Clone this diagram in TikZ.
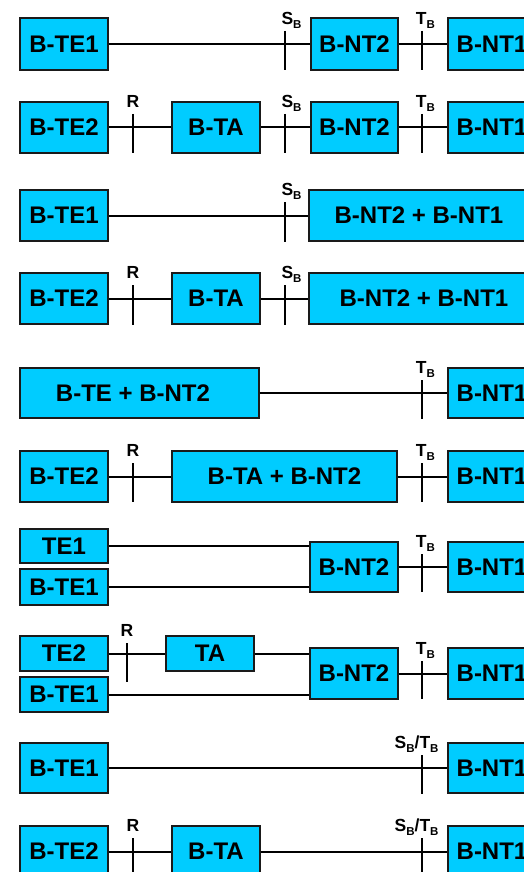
\documentclass[tikz,border=0pt]{standalone}
\usepackage{fontspec}
\setmainfont{Liberation Sans}
\definecolor{boxcyan}{HTML}{00CCFF}
\definecolor{boxline}{HTML}{1A1A1A}
\newcommand{\lsub}{\raisebox{-3.5pt}{\fontsize{11.5}{11.5}\selectfont B}}
\begin{document}
\begin{tikzpicture}[x=1pt,y=-1pt,
  box/.style={draw=boxline, line width=1.3pt, fill=boxcyan, inner sep=0pt,
    minimum width=88pt, minimum height=51pt,
    font=\fontsize{24}{24}\selectfont\bfseries},
  conn/.style={line width=2pt, draw=black},
  tickln/.style={line width=2pt, draw=black},
  lab/.style={anchor=south west, inner sep=0pt, font=\fontsize{17.5}{17.5}\selectfont\bfseries},
  rlab/.style={anchor=south, inner sep=0pt, font=\fontsize{17.5}{17.5}\selectfont\bfseries}]
\useasboundingbox (0,0) rectangle (524,872);
\clip (0,0) rectangle (524,872);

% ---------- Row 1 ----------
\node[box, minimum height=52pt] (r1a) at (64,44) {B-TE1};
\node[box, minimum height=52pt, minimum width=87pt] (r1b) at (354.5,44) {B-NT2};
\node[box, minimum height=52pt] (r1c) at (492,44) {B-NT1};
\draw[conn] (r1a) -- (r1b);
\draw[conn] (r1b) -- (r1c);
\draw[tickln] (285,31) -- (285,70);
\draw[tickln] (422,31) -- (422,70);
\node[lab] (l1s) at (281.3,28.3) {S\lsub};
\node[lab] (l1t) at (415.7,28.3) {T\lsub};

% ---------- Row 2 ----------
\node[box] (r2a) at (64,127.5) {B-TE2};
\node[box] (r2b) at (216,127.5) {B-TA};
\node[box, minimum width=87pt] (r2c) at (354.5,127.5) {B-NT2};
\node[box] (r2d) at (492,127.5) {B-NT1};
\draw[conn] (r2a) -- (r2b);
\draw[conn] (r2b) -- (r2c);
\draw[conn] (r2c) -- (r2d);
\draw[tickln] (133,114) -- (133,153);
\draw[tickln] (285,114) -- (285,153);
\draw[tickln] (422,114) -- (422,153);
\node[rlab] (l2r) at (133,107.5) {R};
\node[lab] (l2s) at (281.3,111.3) {S\lsub};
\node[lab] (l2t) at (415.7,111.3) {T\lsub};

% ---------- Row 3 ----------
\node[box] (r3a) at (64,215.5) {B-TE1};
\node[box, minimum width=220pt] (r3b) at (419,215.5) {B-NT2 + B-NT1};
\draw[conn] (r3a) -- (r3b);
\draw[tickln] (285,202) -- (285,242);
\node[lab] (l3s) at (281.3,199.3) {S\lsub};

% ---------- Row 4 ----------
\node[box] (r4a) at (64,298.5) {B-TE2};
\node[box] (r4b) at (216,298.5) {B-TA};
\node[box, minimum width=230pt] (r4c) at (424,298.5) {B-NT2 + B-NT1};
\draw[conn] (r4a) -- (r4b);
\draw[conn] (r4b) -- (r4c);
\draw[tickln] (133,285) -- (133,325);
\draw[tickln] (285,285) -- (285,325);
\node[rlab] (l4r) at (133,278.5) {R};
\node[lab] (l4s) at (281.3,282.3) {S\lsub};

% ---------- Row 5 ----------
\node[box, minimum width=239pt, minimum height=50pt] (r5a) at (139.5,393) {B-TE + B-NT2\hspace*{13pt}};
\node[box, minimum height=50pt] (r5b) at (492,393) {B-NT1};
\draw[conn] (r5a) -- (r5b);
\draw[tickln] (422,380) -- (422,419);
\node[lab] (l5t) at (415.7,377.3) {T\lsub};

% ---------- Row 6 ----------
\node[box] (r6a) at (64,476.5) {B-TE2};
\node[box, minimum width=225pt] (r6b) at (284.5,476.5) {B-TA + B-NT2};
\node[box] (r6c) at (492,476.5) {B-NT1};
\draw[conn] (r6a) -- (r6b);
\draw[conn] (r6b) -- (r6c);
\draw[tickln] (133,463) -- (133,502);
\draw[tickln] (422,463) -- (422,502);
\node[rlab] (l6r) at (133,456.5) {R};
\node[lab] (l6t) at (415.7,460.3) {T\lsub};

% ---------- Row 7 ----------
\node[box, minimum height=34pt] (r7a) at (64,546) {TE1};
\node[box, minimum height=36pt] (r7b) at (64,587) {B-TE1};
\node[box, minimum height=50pt] (r7c) at (354,567) {B-NT2};
\node[box, minimum height=50pt] (r7d) at (492,567) {B-NT1};
\draw[conn] (r7a.east) -- (r7a.east -| r7c.west);
\draw[conn] (r7b.east) -- (r7b.east -| r7c.west);
\draw[conn] (r7c) -- (r7d);
\draw[tickln] (422,554) -- (422,592);
\node[lab] (l7t) at (415.7,551.3) {T\lsub};

% ---------- Row 8 ----------
\node[box, minimum height=35pt] (r8a) at (64,653.5) {TE2};
\node[box, minimum height=35pt] (r8b) at (210,653.5) {TA};
\node[box, minimum height=35pt] (r8c) at (64,694.5) {B-TE1};
\node[box] (r8d) at (354,673.5) {B-NT2};
\node[box] (r8e) at (492,673.5) {B-NT1};
\draw[conn] (r8a) -- (r8b);
\draw[conn] (r8b.east) -- (r8b.east -| r8d.west);
\draw[conn] (r8c.east) -- (r8c.east -| r8d.west);
\draw[conn] (r8d) -- (r8e);
\draw[tickln] (127,643) -- (127,682);
\draw[tickln] (422,661) -- (422,699);
\node[rlab] (l8r) at (127,636.5) {R};
\node[lab] (l8t) at (415.7,658.3) {T\lsub};

% ---------- Row 9 ----------
\node[box, minimum height=50pt] (r9a) at (64,768) {B-TE1};
\node[box, minimum height=50pt] (r9b) at (492,768) {B-NT1};
\draw[conn] (r9a) -- (r9b);
\draw[tickln] (422,755) -- (422,794);
\node[lab] (l9st) at (394.5,752.3) {S\lsub/T\lsub};

% ---------- Row 10 ----------
\node[box] (r10a) at (64,851.5) {B-TE2};
\node[box] (r10b) at (216,851.5) {B-TA};
\node[box] (r10c) at (492,851.5) {B-NT1};
\draw[conn] (r10a) -- (r10b);
\draw[conn] (r10b) -- (r10c);
\draw[tickln] (133,838) -- (133,877);
\draw[tickln] (422,838) -- (422,877);
\node[rlab] (l10r) at (133,831.5) {R};
\node[lab] (l10st) at (394.5,835.3) {S\lsub/T\lsub};
\end{tikzpicture}
\end{document}
